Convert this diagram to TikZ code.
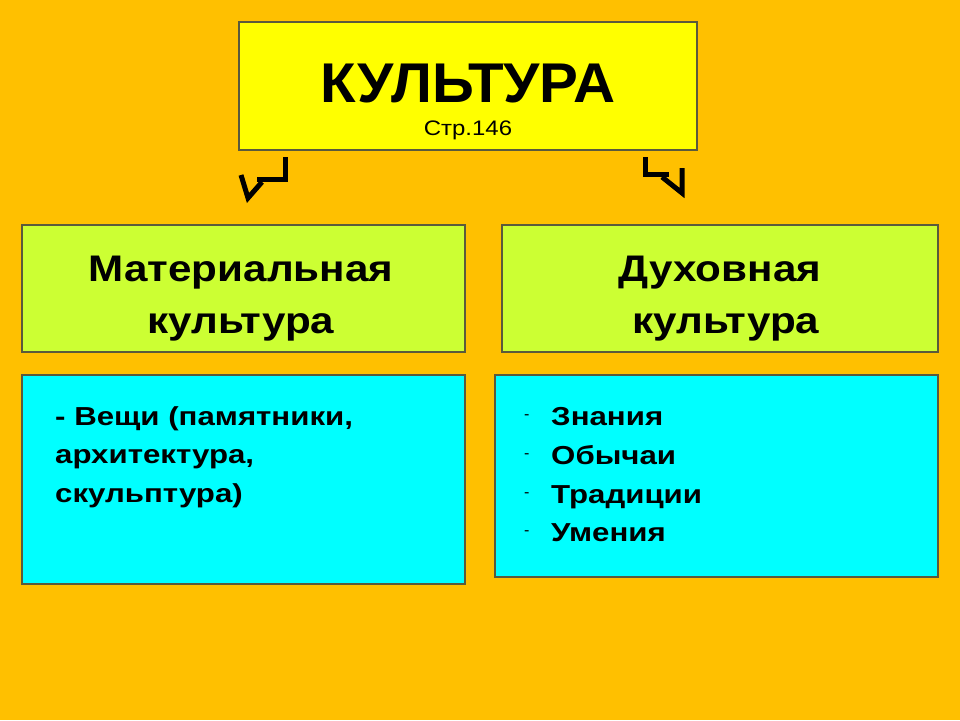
\documentclass[tikz,border=0pt]{standalone}
\usepackage{fontspec}
\setmainfont{Liberation Sans}
\definecolor{bg}{HTML}{FFC000}
\definecolor{topfill}{HTML}{FFFF00}
\definecolor{greenfill}{HTML}{CCFF33}
\definecolor{cyanfill}{HTML}{00FFFF}
\definecolor{edge}{HTML}{5A5A3C}
\tikzset{
  box/.style={draw=edge, line width=2pt},
  arr/.style={line width=5pt, line join=miter, line cap=butt, black},
  big/.style={font=\fontsize{37}{52}\selectfont\bfseries, inner sep=0pt, anchor=base, xscale=1.14, transform shape},
  item/.style={font=\fontsize{26}{38.5}\selectfont\bfseries, inner sep=0pt, anchor=base west, xscale=1.2, transform shape},
  dashmark/.style={font=\fontsize{16}{16}\selectfont, inner sep=0pt, anchor=base west},
}
\begin{document}
\begin{tikzpicture}[x=1pt,y=-1pt]
\fill[bg] (0,0) rectangle (960,720);
\useasboundingbox (0,0) rectangle (960,720);
% boxes
\draw[box, fill=topfill] (239,22) rectangle (697,150);
\draw[box, fill=greenfill] (22,225) rectangle (465,352);
\draw[box, fill=greenfill] (502,225) rectangle (938,352);
\draw[box, fill=cyanfill] (22,375) rectangle (465,584);
\draw[box, fill=cyanfill] (495,375) rectangle (938,577);
% title
\node[font=\fontsize{56}{60}\selectfont\bfseries, anchor=base, inner sep=0pt, xscale=1.04, transform shape] (title) at (468,102) {КУЛЬТУРА};
\node[font=\fontsize{21}{24}\selectfont, anchor=base, inner sep=0pt, xscale=1.14, transform shape] (page) at (468,135) {Стр.146};
% arrows
\coordinate (la1) at (285.5,157);
\coordinate (la2) at (285.5,179.5);
\coordinate (la3) at (257,179.5);
\coordinate (lt1) at (241,175);
\coordinate (lt2) at (248,198);
\coordinate (lt3) at (262,182);
\draw[arr] (la1) -- (la2) -- (la3);
\draw[arr] (lt1) -- (lt2) -- (lt3);
\coordinate (ra1) at (645.5,157);
\coordinate (ra2) at (645.5,174.5);
\coordinate (ra3) at (669,174.5);
\coordinate (rt1) at (662,177);
\coordinate (rt2) at (682,193);
\coordinate (rt3) at (682,168);
\draw[arr] (ra1) -- (ra2) -- (ra3);
\draw[arr] (rt1) -- (rt2) -- (rt3);
% middle row
\node[big] (mat1) at (241,281) {Материальная};
\node[big] (mat2) at (241,333) {культура};
\node[big] (duh1) at (720,281) {Духовная};
\node[big] (duh2) at (726,333) {культура};
% left list
\node[item] (l1) at (55,425) {- Вещи (памятники,};
\node[item] (l2) at (55,463.5) {архитектура,};
\node[item] (l3) at (55,502) {скульптура)};
% right list
\foreach \y/\t/\n in {425/Знания/r1, 464/Обычаи/r2, 503/Традиции/r3, 541/Умения/r4}{
  \node[item] (\n) at (551,\y) {\t};
  \node[dashmark] (\n d) at (524,\y-6) {-};
}
\end{tikzpicture}
\end{document}
